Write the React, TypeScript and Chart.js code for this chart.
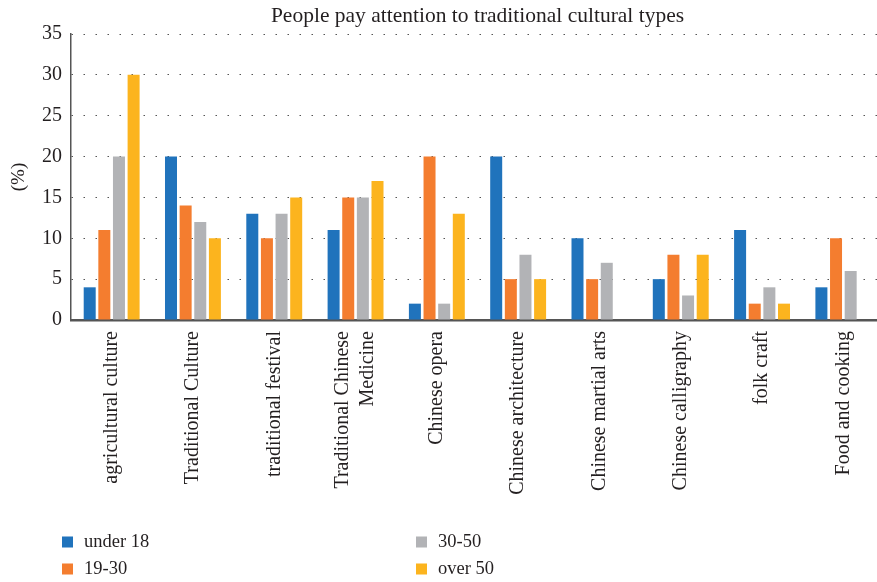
import React, { useEffect, useRef } from 'react';
import { Chart, registerables } from 'chart.js';

Chart.register(...registerables);

const chartTitle = 'People pay attention to traditional cultural types';
const yAxisTitle = '(%)';

const categories: (string | string[])[] = [
  'agricultural culture',
  'Traditional Culture',
  'traditional festival',
  ['Traditional Chinese', 'Medicine'],
  'Chinese opera',
  'Chinese architecture',
  'Chinese martial arts',
  'Chinese calligraphy',
  'folk craft',
  'Food and cooking',
];

const seriesNames = ['under 18', '19-30', '30-50', 'over 50'];
const under18 = [4, 20, 13, 11, 2, 20, 10, 5, 11, 4];
const age19to30 = [11, 14, 10, 15, 20, 5, 5, 8, 2, 10];
const age30to50 = [20, 12, 13, 15, 2, 8, 7, 3, 4, 6];
const over50 = [30, 10, 15, 17, 13, 5, 0, 8, 2, 0];
const seriesColors = ['#2073bc', '#f47d2f', '#b2b3b6', '#fcb41e'];

const yMin = 0;
const yMax = 35;
const yStep = 5;

const FONT = '"Liberation Serif", "Times New Roman", serif';
const TEXT = '#231f20';

export default function App() {
  const ref = useRef<HTMLCanvasElement>(null);

  useEffect(() => {
    const canvas = ref.current;
    if (!canvas) return;

    const overlay = {
      id: 'overlay',
      afterDraw(chart: any) {
        const { ctx, chartArea, scales } = chart;
        const xs = scales.x;
        ctx.save();
        ctx.fillStyle = TEXT;

        // title
        ctx.font = `21.5px ${FONT}`;
        ctx.textAlign = 'center';
        ctx.textBaseline = 'alphabetic';
        ctx.fillText(chartTitle, (chartArea.left + chartArea.right) / 2, 22);

        // y axis title
        ctx.save();
        ctx.translate(19, (chartArea.top + chartArea.bottom) / 2);
        ctx.rotate(-Math.PI / 2);
        ctx.textAlign = 'center';
        ctx.textBaseline = 'middle';
        ctx.font = `19px ${FONT}`;
        ctx.fillText(yAxisTitle, 0, 0);
        ctx.restore();

        // category labels
        ctx.font = `20px ${FONT}`;
        categories.forEach((lab, i) => {
          const lines = Array.isArray(lab) ? lab : [lab];
          const cx = xs.getPixelForTick(i);
          const lh = 25;
          lines.forEach((line, j) => {
            const off = (j - (lines.length - 1) / 2) * lh;
            ctx.save();
            ctx.translate(cx + off, chartArea.bottom + 11);
            ctx.rotate(-Math.PI / 2);
            ctx.textAlign = 'right';
            ctx.textBaseline = 'middle';
            ctx.fillText(line, 0, 0);
            ctx.restore();
          });
        });

        // legend
        const colX = [62, 416];
        const rowY = [542, 569];
        ctx.font = `18.5px ${FONT}`;
        ctx.textAlign = 'left';
        ctx.textBaseline = 'middle';
        chart.data.datasets.forEach((ds: any, i: number) => {
          const col = Math.floor(i / 2);
          const row = i % 2;
          const x = colX[col];
          const y = rowY[row];
          ctx.fillStyle = ds.backgroundColor;
          ctx.fillRect(x, y - 5.5, 11, 11);
          ctx.fillStyle = TEXT;
          ctx.fillText(ds.label, x + 22, y);
        });

        ctx.restore();
      },
    };

    const chart = new Chart(canvas, {
      type: 'bar',
      data: {
        labels: categories as any,
        datasets: [under18, age19to30, age30to50, over50].map((d, i) => ({
          label: seriesNames[i],
          data: d,
          backgroundColor: seriesColors[i],
          borderWidth: 0,
          categoryPercentage: 0.72,
          barPercentage: 0.82,
        })),
      },
      options: {
        responsive: false,
        animation: false,
        layout: { padding: { top: 34, right: 16, left: 0, bottom: 0 } },
        plugins: {
          legend: { display: false },
          title: { display: false },
          tooltip: { enabled: false },
        },
        scales: {
          x: {
            z: 1,
            grid: { display: false, drawTicks: false },
            ticks: { display: false },
            border: { display: true, color: '#555555', width: 2.5 },
            afterFit: (scale: any) => {
              scale.height = 262;
            },
          },
          y: {
            min: yMin,
            max: yMax,
            ticks: {
              stepSize: yStep,
              color: TEXT,
              padding: 9,
              font: { family: FONT, size: 20 },
            },
            grid: {
              drawTicks: false,
              lineWidth: 1,
              color: (c: any) => (c.tick && c.tick.value === 0 ? 'rgba(0,0,0,0)' : '#555555'),
            },
            border: { display: true, color: '#555555', width: 1.5, dash: [1.5, 10.5] },
            afterFit: (scale: any) => {
              scale.width = 71;
            },
          },
        },
      },
      plugins: [overlay],
    });

    return () => chart.destroy();
  }, []);

  return (
    <div
      style={{
        position: 'fixed',
        left: 0,
        top: 0,
        width: 877,
        height: 582,
        overflow: 'hidden',
        background: '#ffffff',
      }}
    >
      <canvas ref={ref} width={900} height={582} style={{ display: 'block' }} />
    </div>
  );
}
